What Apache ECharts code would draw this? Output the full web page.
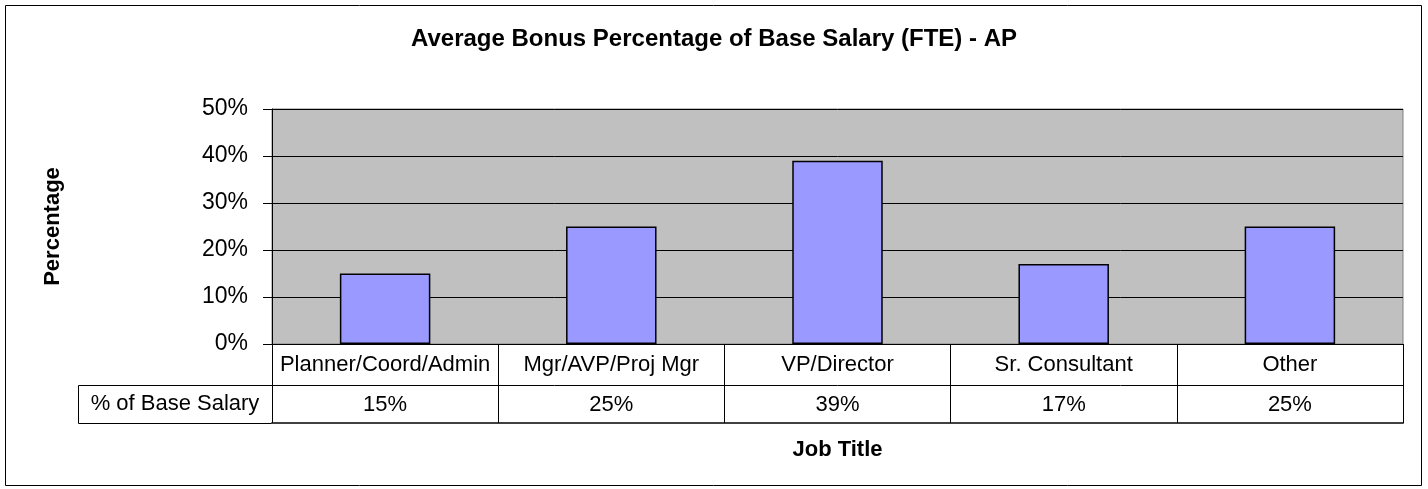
<!DOCTYPE html>
<html>
<head>
<meta charset="utf-8">
<script src="https://cdn.jsdelivr.net/npm/echarts@6/dist/echarts.min.js"></script>
<style>
  html, body { margin: 0; padding: 0; background: #fff; }
  #chart { width: 1428px; height: 489px; }
</style>
</head>
<body>
<div id="chart"></div>
<script>
// data
const categories = ["Planner/Coord/Admin", "Mgr/AVP/Proj Mgr", "VP/Director", "Sr. Consultant", "Other"];
const bonusPct = [15, 25, 39, 17, 25];
const rowLabel = "% of Base Salary";
const yMax = 50;
const yStep = 10;

const font = "'Liberation Sans', Arial, sans-serif";
const gridLeft = 272, gridTop = 109, gridHeight = 235, gridRight = 25;
const rowH = 41, tableH = 79, headLeft = 78;

const chart = echarts.init(document.getElementById("chart"));

const option = {
  animation: false,
  backgroundColor: "#fff",
  title: {
    text: "Average Bonus Percentage of Base Salary (FTE) - AP",
    left: "center",
    top: 22,
    textStyle: { fontFamily: font, fontSize: 24, fontWeight: "bold", color: "#000" },
  },
  grid: {
    left: gridLeft,
    right: gridRight,
    top: gridTop,
    height: gridHeight,
    show: true,
    backgroundColor: "#c0c0c0",
    borderColor: "#808080",
    borderWidth: 1,
    outerBoundsMode: "none",
  },
  xAxis: [
    {
      type: "category",
      data: categories,
      axisLine: { lineStyle: { color: "#000", width: 1 } },
      axisTick: { show: true, length: tableH, alignWithLabel: false, lineStyle: { color: "#000" } },
      axisLabel: { interval: 0, margin: 10, color: "#000", fontFamily: font, fontSize: 22 },
      splitLine: { show: false },
    },
    {
      type: "category",
      data: bonusPct.map((v) => v + "%"),
      position: "bottom",
      offset: rowH,
      axisLine: { lineStyle: { color: "#000", width: 1 } },
      axisTick: { show: false },
      axisLabel: { interval: 0, margin: 9, color: "#000", fontFamily: font, fontSize: 22 },
      name: "Job Title",
      nameLocation: "middle",
      nameGap: 54,
      nameTextStyle: { fontFamily: font, fontSize: 22, fontWeight: "bold", color: "#000" },
    },
    {
      type: "category",
      data: categories,
      position: "bottom",
      offset: tableH,
      axisLine: { lineStyle: { color: "#404040", width: 2 } },
      axisTick: { show: false },
      axisLabel: { show: false },
    },
  ],
  yAxis: {
    type: "value",
    min: 0,
    max: yMax,
    interval: yStep,
    axisLine: { show: true, lineStyle: { color: "#000" } },
    axisTick: { show: true, length: 9, lineStyle: { color: "#000" } },
    axisLabel: { formatter: "{value}%", margin: 24, color: "#000", fontFamily: font, fontSize: 23 },
    splitLine: { show: true, lineStyle: { color: "#000", width: 1 } },
    name: "Percentage",
    nameLocation: "middle",
    nameRotate: 90,
    nameGap: 208,
    nameTextStyle: { fontFamily: font, fontSize: 22, fontWeight: "bold", color: "#000" },
  },
  series: [
    {
      type: "bar",
      data: bonusPct,
      barWidth: "40%",
      itemStyle: { color: "#9999ff", borderColor: "#000", borderWidth: 1.5 },
    },
  ],
  graphic: [
    {
      type: "rect",
      shape: { x: 5.5, y: 5.5, width: 1416, height: 480 },
      style: { fill: "none", stroke: "#000", lineWidth: 1 },
      silent: true,
    },
    {
      type: "rect",
      shape: { x: headLeft + 0.5, y: gridTop + gridHeight + rowH + 0.5, width: gridLeft - headLeft, height: tableH - rowH },
      style: { fill: "none", stroke: "#000", lineWidth: 1 },
      silent: true,
    },
    {
      type: "text",
      x: (headLeft + gridLeft) / 2,
      y: gridTop + gridHeight + rowH + (tableH - rowH) / 2,
      style: {
        text: rowLabel,
        fontFamily: font,
        fontSize: 22,
        fill: "#000",
        align: "center",
        verticalAlign: "middle",
      },
      silent: true,
    },
  ],
};

chart.setOption(option);
</script>
</body>
</html>
